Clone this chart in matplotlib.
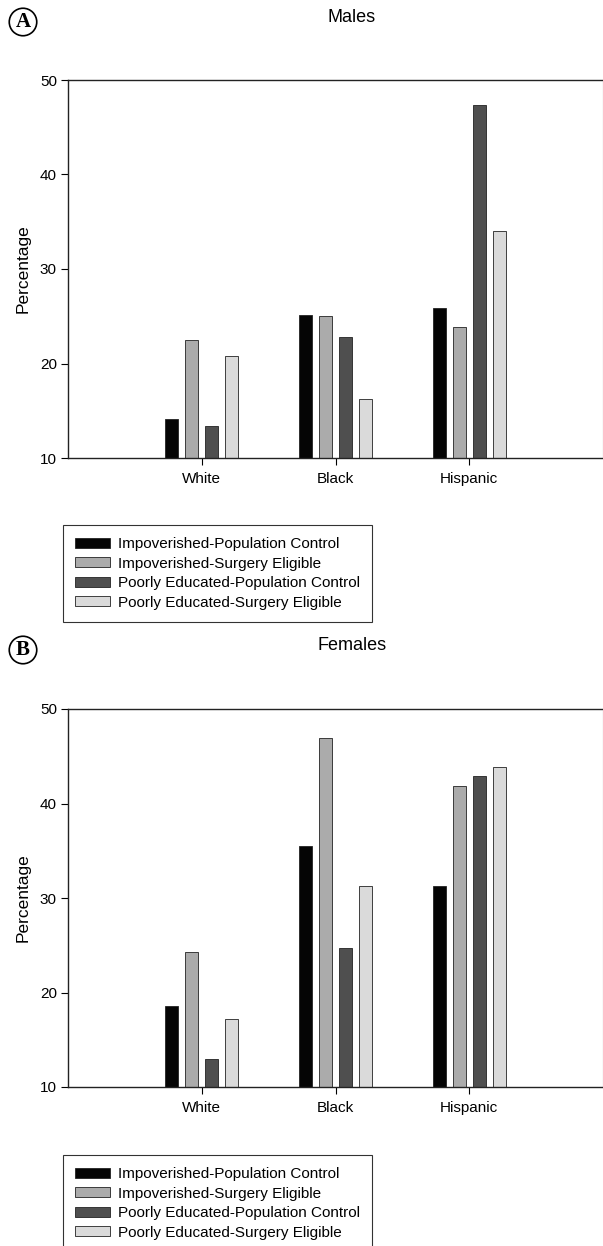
import matplotlib
matplotlib.use("Agg")
import matplotlib.pyplot as plt
import numpy as np

plt.rcParams['font.family'] = ['Liberation Sans', 'DejaVu Sans']

categories = ["White", "Black", "Hispanic"]
series_names = ["Impoverished-Population Control",
                "Impoverished-Surgery Eligible",
                "Poorly Educated-Population Control",
                "Poorly Educated-Surgery Eligible"]
males = [
    [14.1, 25.1, 25.9],
    [22.5, 25.0, 23.9],
    [13.4, 22.8, 47.4],
    [20.8, 16.2, 34.0],
]
females = [
    [18.6, 35.5, 31.3],
    [24.3, 46.9, 41.9],
    [13.0, 24.7, 42.9],
    [17.2, 31.3, 43.9],
]
yticks = [10, 20, 30, 40, 50]
colors = ["#050505", "#ababab", "#4f4f4f", "#dadada"]

W, H = 603, 1246
fig = plt.figure(figsize=(W / 100, H / 100), dpi=100)

def fx(px):
    return px / W

def fy(py):
    return 1 - py / H

def panel(top_px, bot_px, data, title, letter, title_y, leg_top):
    ax = fig.add_axes([fx(68), fy(bot_px), fx(603) - fx(68), fy(top_px) - fy(bot_px)])
    x = np.arange(len(categories))
    pitch = 0.15
    width = 0.098
    handles = []
    for i, vals in enumerate(data):
        off = (i - 1.5) * pitch
        b = ax.bar(x + off, np.array(vals) - 10, bottom=10, width=width,
                   color=colors[i], edgecolor="#222222", linewidth=0.6,
                   label=series_names[i])
        handles.append(b)
    ax.set_xlim(-1, 3)
    ax.set_ylim(10, 50)
    ax.set_yticks(yticks)
    ax.set_xticks(x)
    ax.set_xticklabels(categories, fontsize=11)
    ax.tick_params(axis='y', labelsize=11, length=5, width=0.8, pad=3)
    ax.tick_params(axis='x', length=5, width=0.8, pad=5)
    for s in ax.spines.values():
        s.set_linewidth(1.0)
        s.set_color("#222222")
    ax.spines['right'].set_color("#dddddd")
    ax.set_ylabel("Percentage", fontsize=12.5, labelpad=7)
    fig.text(fx(352), fy(title_y), title, ha='center', va='center', fontsize=13)
    fig.text(fx(23), fy(title_y + 5), letter, ha='center', va='center',
             fontsize=15, fontweight='bold', family='Liberation Serif',
             bbox=dict(boxstyle='circle,pad=0.18', fc='white', ec='black', lw=1.2))
    leg = fig.legend(handles=handles, loc='upper left',
                     bbox_to_anchor=(fx(63), fy(leg_top)),
                     bbox_transform=fig.transFigure,
                     fontsize=11, frameon=True, fancybox=False, edgecolor='black',
                     handlelength=2.3, handleheight=0.65, handletextpad=0.5,
                     labelspacing=0.36, borderpad=0.8, borderaxespad=0)
    leg.get_frame().set_linewidth(0.8)
    return ax

panel(80, 458, males, "Males", "A", 17, 525)
panel(709, 1087, females, "Females", "B", 645, 1155)

fig.savefig("out.png", dpi=100)
